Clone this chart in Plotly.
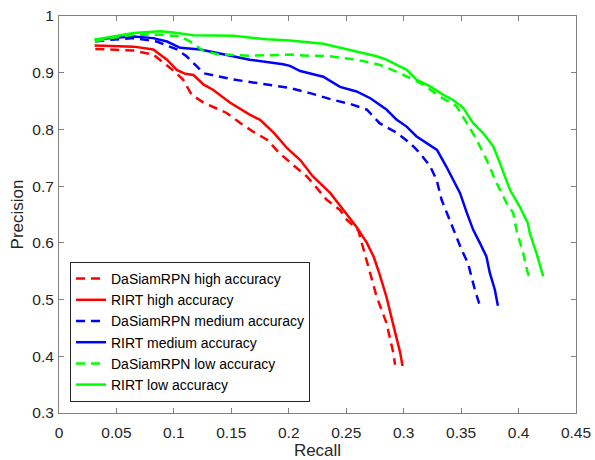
import plotly.graph_objects as go

# ---- data ----
da_high_r = [0.0316, 0.045, 0.065, 0.082, 0.097, 0.108, 0.1155, 0.126, 0.146, 0.158, 0.169, 0.181,
             0.192, 0.204, 0.2157, 0.2243, 0.233, 0.2446, 0.2504, 0.2605, 0.2635, 0.268, 0.2765,
             0.285, 0.291, 0.2925]
da_high_p = [0.942, 0.941, 0.939, 0.932, 0.908, 0.888, 0.861, 0.847, 0.829, 0.811, 0.796, 0.782,
             0.758, 0.737, 0.717, 0.697, 0.676, 0.658, 0.641, 0.622, 0.600, 0.564, 0.505,
             0.459, 0.406, 0.385]

ri_high_r = [0.031, 0.045, 0.065, 0.082, 0.094, 0.1025, 0.110, 0.117, 0.126, 0.134, 0.149, 0.166,
             0.175, 0.187, 0.193, 0.199, 0.210, 0.221, 0.236, 0.2475, 0.259, 0.268, 0.274,
             0.279, 0.285, 0.291, 0.297, 0.299]
ri_high_p = [0.948, 0.947, 0.946, 0.941, 0.923, 0.905, 0.898, 0.896, 0.879, 0.870, 0.847, 0.826,
             0.817, 0.794, 0.780, 0.766, 0.746, 0.717, 0.688, 0.657, 0.628, 0.600, 0.575,
             0.545, 0.505, 0.455, 0.406, 0.383]

da_med_r = [0.0316, 0.045, 0.065, 0.085, 0.1026, 0.111, 0.120, 0.126, 0.152, 0.181, 0.201, 0.2185,
            0.2388, 0.2533, 0.268, 0.279, 0.294, 0.3055, 0.3142, 0.323, 0.3287, 0.333, 0.3374,
            0.3446, 0.3504, 0.356, 0.359, 0.362, 0.367]
da_med_p = [0.955, 0.958, 0.961, 0.955, 0.941, 0.929, 0.911, 0.899, 0.888, 0.879, 0.873, 0.864,
            0.852, 0.845, 0.835, 0.811, 0.794, 0.776, 0.758, 0.735, 0.711, 0.676, 0.653,
            0.617, 0.588, 0.564, 0.541, 0.517, 0.485]

ri_med_r = [0.0316, 0.045, 0.065, 0.082, 0.094, 0.1055, 0.123, 0.152, 0.166, 0.195, 0.201, 0.210,
            0.230, 0.2446, 0.259, 0.271, 0.285, 0.294, 0.3026, 0.311, 0.320, 0.329, 0.337,
            0.343, 0.349, 0.355, 0.3605, 0.3663, 0.372, 0.375, 0.3794, 0.382]
ri_med_p = [0.958, 0.961, 0.964, 0.961, 0.955, 0.944, 0.941, 0.929, 0.923, 0.915, 0.912, 0.903,
            0.893, 0.875, 0.867, 0.855, 0.835, 0.817, 0.805, 0.788, 0.776, 0.764, 0.735,
            0.711, 0.688, 0.653, 0.623, 0.600, 0.576, 0.547, 0.517, 0.489]

da_low_r = [0.0316, 0.045, 0.065, 0.088, 0.1055, 0.114, 0.126, 0.137, 0.166, 0.201, 0.2185,
            0.2359, 0.259, 0.279, 0.297, 0.3171, 0.3316, 0.346, 0.355, 0.3635, 0.372, 0.381,
            0.3896, 0.3953, 0.3985, 0.404, 0.408, 0.409]
da_low_p = [0.955, 0.961, 0.967, 0.967, 0.964, 0.955, 0.938, 0.933, 0.930, 0.932, 0.930,
            0.929, 0.923, 0.914, 0.899, 0.879, 0.858, 0.841, 0.811, 0.782, 0.747, 0.705,
            0.670, 0.653, 0.620, 0.582, 0.547, 0.542]

ri_low_r = [0.0307, 0.045, 0.065, 0.088, 0.0997, 0.117, 0.152, 0.181, 0.201, 0.230, 0.259,
            0.2765, 0.285, 0.3026, 0.311, 0.323, 0.3345, 0.343, 0.3518, 0.3605, 0.369, 0.378,
            0.3837, 0.3924, 0.401, 0.408, 0.4098, 0.4156, 0.4214]
ri_low_p = [0.958, 0.963, 0.970, 0.973, 0.971, 0.966, 0.965, 0.959, 0.957, 0.951, 0.938,
            0.929, 0.923, 0.905, 0.888, 0.876, 0.861, 0.852, 0.838, 0.811, 0.794, 0.770,
            0.741, 0.694, 0.664, 0.635, 0.617, 0.582, 0.541]

x_ticks = [0, 0.05, 0.1, 0.15, 0.2, 0.25, 0.3, 0.35, 0.4, 0.45]
x_labels = ["0", "0.05", "0.1", "0.15", "0.2", "0.25", "0.3", "0.35", "0.4", "0.45"]
y_ticks = [0.3, 0.4, 0.5, 0.6, 0.7, 0.8, 0.9, 1.0]
y_labels = ["0.3", "0.4", "0.5", "0.6", "0.7", "0.8", "0.9", "1"]

series = [
    ("DaSiamRPN high accuracy", da_high_r, da_high_p, "#FF0000", "9px,6px"),
    ("RIRT high accuracy", ri_high_r, ri_high_p, "#FF0000", "solid"),
    ("DaSiamRPN medium accuracy", da_med_r, da_med_p, "#0000FF", "9px,6px"),
    ("RIRT medium accuracy", ri_med_r, ri_med_p, "#0000FF", "solid"),
    ("DaSiamRPN low accuracy", da_low_r, da_low_p, "#00FF00", "9px,6px"),
    ("RIRT low accuracy", ri_low_r, ri_low_p, "#00FF00", "solid"),
]

fig = go.Figure()
for name, xs, ys, col, dash in series:
    fig.add_trace(go.Scatter(x=xs, y=ys, mode="lines", name=name,
                             line=dict(color=col, width=2.5, dash=dash)))

font_family = "Liberation Sans, Arial, sans-serif"
axis_common = dict(showline=True, linecolor="#808080", linewidth=1, mirror="ticks",
                   ticks="inside", ticklen=5, tickcolor="#808080", showgrid=False,
                   zeroline=False, automargin=False,
                   tickfont=dict(family=font_family, size=15.5, color="#262626"))

fig.update_layout(
    width=595, height=460,
    margin=dict(l=59, r=19, t=16, b=47),
    paper_bgcolor="white", plot_bgcolor="white",
    font=dict(family=font_family, color="#262626"),
    xaxis=dict(range=[0, 0.45], tickvals=x_ticks, ticktext=x_labels, ticklabelstandoff=5,
               title=dict(text="Recall", font=dict(size=17, family=font_family), standoff=3),
               **axis_common),
    yaxis=dict(range=[0.3, 1.0], tickvals=y_ticks, ticktext=y_labels, ticklabelstandoff=1,
               title=dict(text="Precision", font=dict(size=17, family=font_family), standoff=4),
               **axis_common),
    legend=dict(x=0.0213, y=0.0277, xanchor="left", yanchor="bottom",
                bgcolor="white", bordercolor="#262626", borderwidth=1,
                font=dict(family=font_family, size=14, color="#000000"),
                tracegroupgap=0, itemwidth=30),
    showlegend=True,
)

fig.write_html("out.html", config={"displayModeBar": False},
               post_script="document.body.style.margin='0';document.body.style.padding='0';")
